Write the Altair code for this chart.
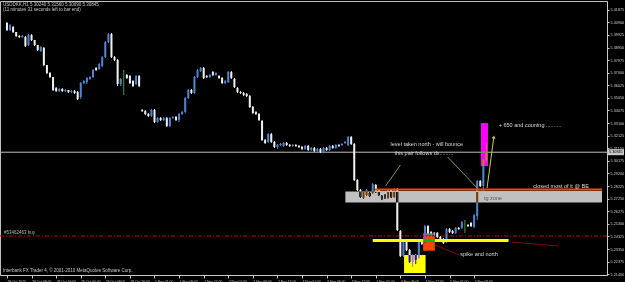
import altair as alt
import pandas as pd

# ---------------- candle data (USDDKK, H1) ----------------
opens = [
    5.4085, 5.4030, 5.4054, 5.4015, 5.3984, 5.3976, 5.3976, 5.3914, 5.3992, 5.3953,
    5.3914, 5.3868, 5.3891, 5.3759, 5.3697, 5.3666, 5.3581, 5.3558, 5.3574, 5.3558,
    5.3566, 5.3550, 5.3558, 5.3550, 5.3512, 5.3620, 5.3628, 5.3651, 5.3666, 5.3736,
    5.3728, 5.3751, 5.3821, 5.3937, 5.3999, 5.3821, 5.3798, 5.3612, 5.3643, 5.3682,
    5.3674, 5.3636, 5.3612, 5.3674, 5.3411, 5.3403, 5.3380, 5.3365, 5.3411, 5.3318,
    5.3349, 5.3334, 5.3349, 5.3287, 5.3349, 5.3357, 5.3334, 5.3380, 5.3396, 5.3504,
    5.3566, 5.3543, 5.3666, 5.3713, 5.3736, 5.3674, 5.3666, 5.3705, 5.3682, 5.3674,
    5.3659, 5.3620, 5.3628, 5.3705, 5.3651, 5.3581, 5.3550, 5.3543, 5.3535, 5.3519,
    5.3434, 5.3396, 5.3380, 5.3326, 5.3179, 5.3164, 5.3225, 5.3164, 5.3125, 5.3140,
    5.3133, 5.3156, 5.3140, 5.3133, 5.3140, 5.3133, 5.3125, 5.3110, 5.3133, 5.3102,
    5.3117, 5.3094, 5.3110, 5.3086, 5.3117, 5.3102, 5.3133, 5.3117, 5.3140, 5.3140,
    5.3156, 5.3140, 5.3202, 5.3148, 5.2869, 5.2792, 5.2730, 5.2753, 5.2769, 5.2769,
    5.2831, 5.2792, 5.2745, 5.2753, 5.2730, 5.2792, 5.2738, 5.2800, 5.2474, 5.2281,
    5.2397, 5.2327, 5.2235, 5.2289, 5.2266, 5.2405, 5.2389, 5.2513, 5.2467, 5.2459,
    5.2459, 5.2428, 5.2413, 5.2389, 5.2490, 5.2474, 5.2459, 5.2498, 5.2498, 5.2521,
    5.2521, 5.2537, 5.2505, 5.2591, 5.2862, 5.2823, 5.3024,
]
closes = [
    5.4030, 5.4069, 5.4015, 5.3984, 5.3976, 5.3984, 5.3906, 5.3992, 5.3953, 5.3914,
    5.3876, 5.3899, 5.3759, 5.3697, 5.3666, 5.3566, 5.3558, 5.3574, 5.3558, 5.3566,
    5.3550, 5.3558, 5.3543, 5.3496, 5.3620, 5.3636, 5.3659, 5.3666, 5.3721, 5.3721,
    5.3767, 5.3821, 5.3937, 5.3999, 5.3821, 5.3798, 5.3612, 5.3651, 5.3643, 5.3659,
    5.3620, 5.3597, 5.3674, 5.3597, 5.3403, 5.3380, 5.3365, 5.3411, 5.3318, 5.3349,
    5.3334, 5.3349, 5.3287, 5.3349, 5.3357, 5.3334, 5.3380, 5.3396, 5.3504, 5.3566,
    5.3543, 5.3666, 5.3721, 5.3736, 5.3659, 5.3666, 5.3682, 5.3682, 5.3697, 5.3659,
    5.3620, 5.3636, 5.3705, 5.3659, 5.3589, 5.3550, 5.3543, 5.3527, 5.3519, 5.3434,
    5.3388, 5.3380, 5.3334, 5.3179, 5.3156, 5.3225, 5.3164, 5.3125, 5.3140, 5.3148,
    5.3156, 5.3140, 5.3133, 5.3140, 5.3133, 5.3125, 5.3110, 5.3133, 5.3102, 5.3117,
    5.3094, 5.3110, 5.3086, 5.3117, 5.3102, 5.3133, 5.3117, 5.3140, 5.3133, 5.3148,
    5.3164, 5.3202, 5.3148, 5.2869, 5.2792, 5.2738, 5.2776, 5.2792, 5.2745, 5.2838,
    5.2776, 5.2753, 5.2722, 5.2730, 5.2792, 5.2738, 5.2800, 5.2482, 5.2281, 5.2397,
    5.2327, 5.2235, 5.2289, 5.2250, 5.2405, 5.2374, 5.2513, 5.2444, 5.2444, 5.2444,
    5.2428, 5.2397, 5.2381, 5.2490, 5.2467, 5.2459, 5.2498, 5.2490, 5.2544, 5.2521,
    5.2513, 5.2513, 5.2598, 5.2862, 5.2823, 5.3024, 5.3085,
]
highs = [
    5.4092, 5.4077, 5.4061, 5.4015, 5.3992, 5.3992, 5.3984, 5.3999, 5.3999, 5.3953,
    5.3914, 5.3906, 5.3899, 5.3759, 5.3705, 5.3666, 5.3589, 5.3581, 5.3581, 5.3574,
    5.3566, 5.3566, 5.3566, 5.3558, 5.3628, 5.3643, 5.3666, 5.3674, 5.3728, 5.3744,
    5.3775, 5.3829, 5.3945, 5.4007, 5.4007, 5.3829, 5.3806, 5.3659, 5.3721, 5.3690,
    5.3682, 5.3643, 5.3682, 5.3682, 5.3419, 5.3411, 5.3388, 5.3419, 5.3419, 5.3357,
    5.3357, 5.3357, 5.3357, 5.3357, 5.3365, 5.3365, 5.3388, 5.3403, 5.3512, 5.3574,
    5.3574, 5.3674, 5.3728, 5.3744, 5.3744, 5.3682, 5.3690, 5.3713, 5.3705, 5.3682,
    5.3666, 5.3643, 5.3713, 5.3713, 5.3659, 5.3589, 5.3558, 5.3550, 5.3543, 5.3527,
    5.3442, 5.3403, 5.3388, 5.3334, 5.3187, 5.3233, 5.3233, 5.3171, 5.3148, 5.3156,
    5.3164, 5.3164, 5.3148, 5.3148, 5.3148, 5.3140, 5.3133, 5.3140, 5.3140, 5.3125,
    5.3125, 5.3117, 5.3117, 5.3125, 5.3125, 5.3140, 5.3140, 5.3148, 5.3148, 5.3156,
    5.3171, 5.3210, 5.3210, 5.3156, 5.2877, 5.2800, 5.2784, 5.2800, 5.2776, 5.2846,
    5.2838, 5.2800, 5.2753, 5.2761, 5.2800, 5.2800, 5.2807, 5.2807, 5.2482, 5.2405,
    5.2405, 5.2335, 5.2296, 5.2296, 5.2412, 5.2412, 5.2521, 5.2521, 5.2474, 5.2467,
    5.2467, 5.2436, 5.2420, 5.2498, 5.2498, 5.2482, 5.2505, 5.2505, 5.2552, 5.2560,
    5.2529, 5.2544, 5.2606, 5.2869, 5.2869, 5.3032, 5.3156,
]
lows = [
    5.4023, 5.4023, 5.4007, 5.3976, 5.3968, 5.3968, 5.3899, 5.3906, 5.3945, 5.3906,
    5.3868, 5.3860, 5.3751, 5.3690, 5.3659, 5.3558, 5.3550, 5.3550, 5.3550, 5.3550,
    5.3543, 5.3543, 5.3535, 5.3488, 5.3496, 5.3612, 5.3612, 5.3643, 5.3659, 5.3713,
    5.3721, 5.3744, 5.3814, 5.3929, 5.3814, 5.3790, 5.3597, 5.3597, 5.3527, 5.3651,
    5.3612, 5.3589, 5.3605, 5.3589, 5.3396, 5.3372, 5.3357, 5.3357, 5.3310, 5.3310,
    5.3326, 5.3326, 5.3280, 5.3280, 5.3341, 5.3326, 5.3318, 5.3372, 5.3388, 5.3496,
    5.3535, 5.3535, 5.3659, 5.3705, 5.3651, 5.3659, 5.3659, 5.3674, 5.3674, 5.3651,
    5.3612, 5.3612, 5.3620, 5.3651, 5.3581, 5.3543, 5.3535, 5.3519, 5.3512, 5.3427,
    5.3380, 5.3372, 5.3326, 5.3171, 5.3148, 5.3156, 5.3156, 5.3117, 5.3110, 5.3133,
    5.3125, 5.3133, 5.3125, 5.3125, 5.3125, 5.3117, 5.3102, 5.3102, 5.3094, 5.3094,
    5.3086, 5.3086, 5.3078, 5.3078, 5.3094, 5.3094, 5.3110, 5.3110, 5.3125, 5.3133,
    5.3148, 5.3133, 5.3140, 5.2862, 5.2784, 5.2730, 5.2722, 5.2745, 5.2738, 5.2761,
    5.2769, 5.2745, 5.2714, 5.2722, 5.2722, 5.2730, 5.2730, 5.2474, 5.2273, 5.2273,
    5.2319, 5.2227, 5.2196, 5.2219, 5.2258, 5.2366, 5.2381, 5.2436, 5.2436, 5.2436,
    5.2420, 5.2389, 5.2374, 5.2381, 5.2459, 5.2451, 5.2451, 5.2482, 5.2490, 5.2459,
    5.2505, 5.2505, 5.2498, 5.2560, 5.2815, 5.2784, 5.3009,
]

time_labels = [
    "28 Oct 2010", "28 Oct 08:00", "28 Oct 16:00", "29 Oct 00:00", "29 Oct 08:00",
    "29 Oct 16:00", "1 Nov 01:00", "1 Nov 09:00", "1 Nov 17:00", "2 Nov 01:00",
    "2 Nov 09:00", "2 Nov 17:00", "3 Nov 01:00", "3 Nov 09:00", "3 Nov 17:00",
    "4 Nov 01:00", "4 Nov 09:00", "4 Nov 17:00", "5 Nov 01:00", "5 Nov 09:00",
]
time_tick_bars = [0, 8, 16, 24, 32, 40, 48, 56, 64, 72, 80, 88, 96, 104, 112,
                  120, 128, 136, 144, 152]
price_ticks = [
    5.21400, 5.22375, 5.23350, 5.24325, 5.25300, 5.26275, 5.27250, 5.28225,
    5.29200, 5.30175, 5.31150, 5.32125, 5.33100, 5.34075, 5.35050, 5.36025,
    5.37000, 5.37975, 5.38950, 5.39925, 5.40900, 5.41875,
]
current_price = 5.30845
order_price = 5.2436

# ---------------- drawn objects (bar index / price) ----------------
band = pd.DataFrame({"b1": [110.1], "b2": [193.6], "p1": [5.2780], "p2": [5.2695]})
xor_rects = pd.DataFrame({
    "b1": [129.2, 135.4, 154.2],
    "b2": [136.2, 139.2, 156.5],
    "p1": [5.2289, 5.2457, 5.3310],
    "p2": [5.2149, 5.2322, 5.2978],
    "col": ["#FFFF00", "#FF4500", "#FF00FF"],
})
segments = pd.DataFrame({
    "b1": [119.7, 119.7, 119.0, 164.2, 139.2, 128.0, 143.4, 156.2],
    "b2": [193.6, 193.6, 163.2, 179.5, 147.2, 123.2, 153.0, 158.4],
    "p1": [5.2796, 5.2781, 5.2401, 5.2389, 5.2366, 5.2985, 5.3047, 5.2807],
    "p2": [5.2796, 5.2781, 5.2401, 5.2358, 5.2289, 5.2823, 5.2807, 5.3202],
    "col": ["#FF4500", "#8FE3B0", "#FFFF00", "#8B0000", "#8B0000",
            "#8C8C46", "#8C8C46", "#C8C85A"],
    "w": [2, 1, 3, 1, 1, 1, 1, 1],
})
notes = pd.DataFrame({
    "b": [124.8, 126.1, 160.0, 171.2, 147.5],
    "p": [5.3148, 5.3078, 5.3295, 5.2823, 5.2296],
    "txt": ["level taken north - will bounce", "this pair follows dx.........",
            "+ 650 and countng  ..........", "closed most of it @ BE",
            "spike and north"],
})
zone_note = pd.DataFrame({"b": [155.2], "p": [5.2730], "txt": ["tg zone"]})

bars = pd.DataFrame({"bar": list(range(len(opens))), "open": opens, "high": highs,
                     "low": lows, "close": closes})
bars["dir"] = ["up" if c > o else ("down" if c < o else "doji")
               for o, c in zip(opens, closes)]

XS = alt.Scale(domain=[-0.64, 193.6], nice=False, zero=False)
YS = alt.Scale(domain=[5.2134, 5.4255], nice=False, zero=False)
FG = "#C8C8C8"
FONT = "Liberation Sans"

label_expr = "[" + ",".join("'%s'" % t for t in time_labels) + "][round(datum.value / 8)]"

x_axis = alt.Axis(values=time_tick_bars, labelExpr=label_expr, labelAlign="left",
                  labelBaseline="top", labelFontSize=3.4, labelFont=FONT, labelColor=FG,
                  labelPadding=1, labelOverlap=False, labelFlush=False, labelBound=False,
                  tickColor=FG, tickSize=3, domainColor=FG, grid=False, title=None)
y_axis = alt.Axis(orient="right", values=price_ticks, format=".5f", labelFontSize=3.8,
                  labelFont=FONT, labelColor=FG, labelPadding=1, labelOverlap=False,
                  labelFlush=False, labelBound=False, tickColor=FG, tickSize=2,
                  domainColor=FG, grid=False, title=None)


def X(field):
    return alt.X(field, scale=XS, axis=x_axis)


def Y(field):
    return alt.Y(field, scale=YS, axis=y_axis)


hlines = pd.DataFrame({"p": [current_price, order_price],
                       "col": ["#BEBEBE", "#C00000"], "kind": ["bid", "order"]})
bid_line = alt.Chart(hlines[hlines.kind == "bid"]).mark_rule(strokeWidth=1).encode(
    y=Y("p:Q"), color=alt.Color("col:N", scale=None))
order_line = alt.Chart(hlines[hlines.kind == "order"]).mark_rule(
    strokeWidth=1, strokeDash=[4, 2, 1, 2]).encode(
    y=Y("p:Q"), color=alt.Color("col:N", scale=None))

cscale = alt.Scale(domain=["up", "down", "doji"], range=["#4F86D0", "#F0F0F0", "#3CA03C"])
wicks = alt.Chart(bars).mark_rule(strokeWidth=1).encode(
    x=X("bar:Q"), y=Y("low:Q"), y2="high:Q",
    color=alt.Color("dir:N", scale=cscale, legend=None))
bodies = alt.Chart(bars).mark_bar(size=2).encode(
    x=X("bar:Q"), y=Y("open:Q"), y2="close:Q",
    color=alt.Color("dir:N", scale=cscale, legend=None))

band_layer = alt.Chart(band).mark_rect(color="#C0C0C0", blend="difference").encode(
    x=X("b1:Q"), x2="b2:Q", y=Y("p1:Q"), y2="p2:Q")

seg_layer = alt.Chart(segments).mark_rule().encode(
    x=X("b1:Q"), x2="b2:Q", y=Y("p1:Q"), y2="p2:Q",
    color=alt.Color("col:N", scale=None),
    strokeWidth=alt.StrokeWidth("w:Q", scale=None))

arrow = alt.Chart(pd.DataFrame({"b": [158.4], "p": [5.3202]})).mark_point(
    shape="triangle-up", filled=True, size=14, color="#C8C85A", angle=8, opacity=1).encode(
    x=X("b:Q"), y=Y("p:Q"))

xor_layer = alt.Chart(xor_rects).mark_rect(blend="difference").encode(
    x=X("b1:Q"), x2="b2:Q", y=Y("p1:Q"), y2="p2:Q",
    color=alt.Color("col:N", scale=None))

note_layer = alt.Chart(notes).mark_text(align="left", baseline="middle", fontSize=5.5,
                                        font=FONT, color="#D8D8D8").encode(
    x=X("b:Q"), y=Y("p:Q"), text="txt:N")
zone_layer = alt.Chart(zone_note).mark_text(align="left", baseline="middle", fontSize=5.5,
                                            font=FONT, color="#5A5A5A").encode(
    x=X("b:Q"), y=Y("p:Q"), text="txt:N")

order_text = alt.Chart(pd.DataFrame({"p": [order_price], "t": ["#53462463 buy"]})).mark_text(
    align="left", baseline="bottom", fontSize=4.5, font=FONT, color="#B4B4B4", dy=-1).encode(
    x=alt.value(4), y=Y("p:Q"), text="t:N")

info = pd.DataFrame({"t": ["USDDKK,H1  5.30240 5.31560 5.30090 5.30845",
                           "(11 minutes 31 seconds left to bar end)"],
                     "yy": [4, 9]})
info_layer = alt.Chart(info).mark_text(align="left", baseline="middle", fontSize=4.5,
                                       font=FONT, color="#C8C8C8").encode(
    x=alt.value(3), y=alt.Y("yy:Q", scale=None), text="t:N")

copyright_layer = alt.Chart(pd.DataFrame({"t": [
    "Interbank FX Trader 4, \u00a9 2001-2010 MetaQuotes Software Corp."]})).mark_text(
    align="left", baseline="middle", fontSize=4.5, font=FONT, color="#C8C8C8").encode(
    x=alt.value(3), y=alt.value(270), text="t:N")

bid_box = alt.Chart(pd.DataFrame({"p": [current_price]})).mark_rect(
    color="#C8C8C8", height=6, width=16).encode(
    x=alt.value(616), y=Y("p:Q"))
bid_text = alt.Chart(pd.DataFrame({"p": [current_price], "t": ["5.30845"]})).mark_text(
    align="left", baseline="middle", fontSize=3.8, font=FONT, color="#000000").encode(
    x=alt.value(609), y=Y("p:Q"), text="t:N")

chart = alt.layer(
    bid_line, order_line, wicks, bodies, band_layer, seg_layer, arrow, xor_layer,
    note_layer, zone_layer, order_text, info_layer, copyright_layer, bid_box, bid_text,
).properties(
    width=607, height=274,
    padding={"left": 0, "top": 1, "right": 18, "bottom": 7},
    autosize=alt.AutoSizeParams(type="none"),
    background="#000000",
).configure_view(stroke="#C0C0C0", strokeWidth=1, fill="#000000")

chart.save("out.html", embed_options={"renderer": "svg", "actions": False})
